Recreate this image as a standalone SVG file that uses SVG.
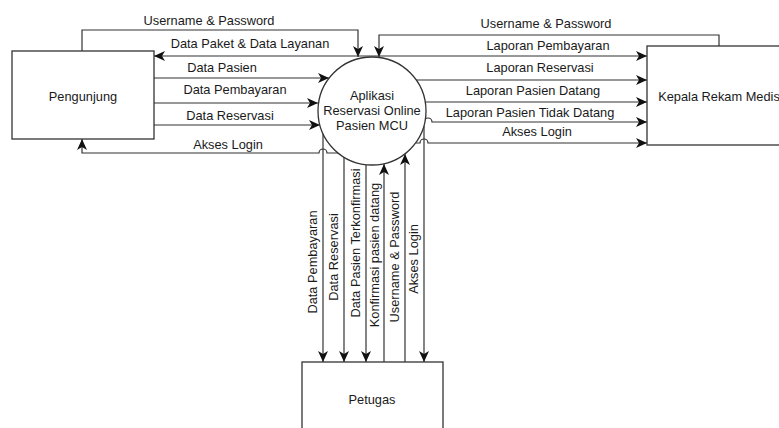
<svg xmlns="http://www.w3.org/2000/svg" width="779" height="428" viewBox="0 0 779 428">
<style>
.box{fill:#fff;stroke:#333;stroke-width:1.3}
.ln{fill:none;stroke:#333;stroke-width:1.2}
.arr{marker-end:url(#ah)}
text{font-family:"Liberation Sans",Arial,sans-serif;font-size:12.8px;fill:#1a1a1a;text-anchor:middle;dominant-baseline:central}
</style>
<defs>
<marker id="ah" markerUnits="userSpaceOnUse" markerWidth="12" markerHeight="10" refX="11" refY="5" orient="auto">
<path d="M0,0 L11,5 L0,10 L3,5 z" fill="#111"/>
</marker>
</defs>
<rect width="779" height="428" fill="#fff"/>
<g id="connectors">
<path class="ln arr" d="M82,51 L82,30 L358,30 L358,57"/>
<path class="ln arr" d="M372,56 L154,56"/>
<path class="ln arr" d="M154,78 L329,78"/>
<path class="ln arr" d="M154,103 L318,103"/>
<path class="ln arr" d="M154,125 L320,125"/>
<path class="ln arr" d="M338,153 L327,153 A4,4 0 0 0 319,153 L82,153 L82,139"/>
<path class="ln arr" d="M719,46 L719,35 L379,35 L379,57"/>
<path class="ln arr" d="M372,56 L647,56"/>
<path class="ln arr" d="M416,80 L647,80"/>
<path class="ln arr" d="M425,102 L647,102"/>
<path class="ln arr" d="M424,122 A4,4 0 0 1 432,122 L647,122"/>
<path class="ln arr" d="M416,143 L420,143 A4,4 0 0 1 428,143 L647,143"/>
<path class="ln arr" d="M323,134 L323,362"/>
<path class="ln arr" d="M344,157 L344,362"/>
<path class="ln arr" d="M366,165 L366,362"/>
<path class="ln arr" d="M384,362 L384,164"/>
<path class="ln arr" d="M405,362 L405,154"/>
<path class="ln arr" d="M424,126 L424,362"/>
<text x="209" y="20">Username &amp; Password</text>
<text x="250" y="43">Data Paket &amp; Data Layanan</text>
<text x="222" y="67">Data Pasien</text>
<text x="235" y="89">Data Pembayaran</text>
<text x="230" y="115">Data Reservasi</text>
<text x="228" y="144">Akses Login</text>
<text x="546" y="23">Username &amp; Password</text>
<text x="548" y="45">Laporan Pembayaran</text>
<text x="540" y="67">Laporan Reservasi</text>
<text x="533" y="90">Laporan Pasien Datang</text>
<text x="530" y="112">Laporan Pasien Tidak Datang</text>
<text x="537" y="131">Akses Login</text>
<text transform="translate(312,262) rotate(-90)">Data Pembayaran</text>
<text transform="translate(333,257) rotate(-90)">Data Reservasi</text>
<text transform="translate(355,243) rotate(-90)">Data Pasien Terkonfirmasi</text>
<text transform="translate(374,255) rotate(-90)">Konfirmasi pasien datang</text>
<text transform="translate(394,257) rotate(-90)">Username &amp; Password</text>
<text transform="translate(413,259) rotate(-90)">Akses Login</text>
</g>
<g id="pengunjung">
<rect class="box" x="12" y="51" width="142" height="88"/>
<text x="83" y="96">Pengunjung</text>
</g>
<g id="aplikasi">
<circle class="box" cx="372" cy="111" r="54"/>
<text x="372" y="95">Aplikasi</text>
<text x="372" y="110">Reservasi Online</text>
<text x="372" y="125">Pasien MCU</text>
</g>
<g id="kepala">
<rect class="box" x="647" y="46" width="144" height="99"/>
<text x="719" y="96">Kepala Rekam Medis</text>
</g>
<g id="petugas">
<rect class="box" x="302" y="362" width="141" height="76"/>
<text x="372" y="399">Petugas</text>
</g>
</svg>
